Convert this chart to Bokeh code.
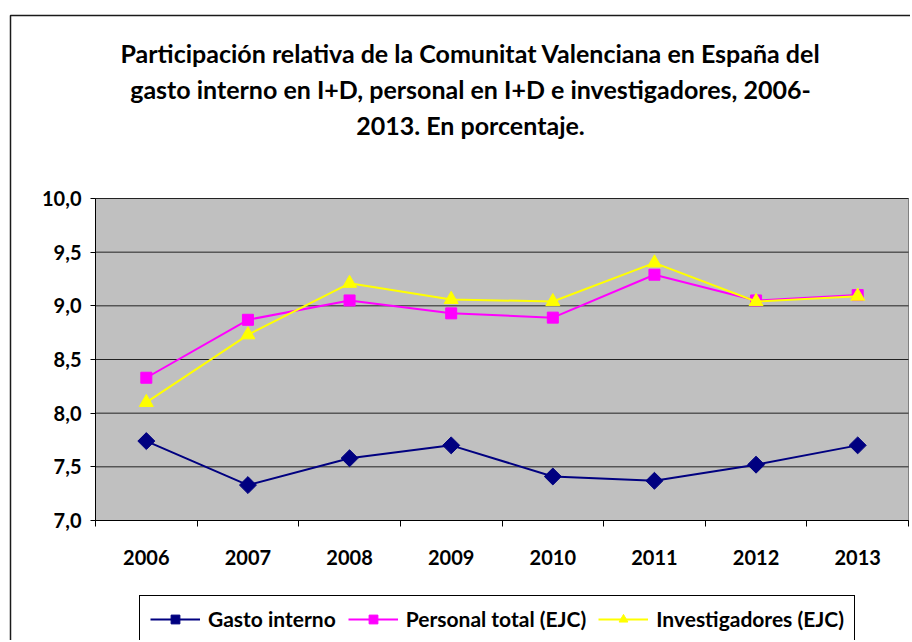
import math
from bokeh.plotting import figure
from bokeh.models import (Range1d, FixedTicker, Legend, LegendItem, Label, BoxAnnotation,
                          ColumnDataSource)
from bokeh.embed import file_html
from bokeh.resources import INLINE

years = ["2006", "2007", "2008", "2009", "2010", "2011", "2012", "2013"]
gasto_interno = [7.74, 7.33, 7.58, 7.70, 7.41, 7.37, 7.52, 7.70]
personal_total = [8.33, 8.87, 9.05, 8.93, 8.89, 9.29, 9.05, 9.10]
investigadores = [8.10, 8.73, 9.21, 9.06, 9.04, 9.40, 9.04, 9.09]
y_ticks = [7.0, 7.5, 8.0, 8.5, 9.0, 9.5, 10.0]
title_lines = [
    "Participación relativa de la Comunitat Valenciana en España del",
    "gasto interno en I+D, personal en I+D e investigadores, 2006-",
    "2013. En porcentaje.",
]

FONT = "Lato"
W, H = 910, 640
# plot-area placement on the canvas (pixels)
PL, PR, PT, PB = 95, 908, 198, 520
n = len(years)
xs = [i + 0.5 for i in range(n)]
ymin, ymax = y_ticks[0], y_ticks[-1]
xpx = (PR - PL) / n
ypx = (PB - PT) / (ymax - ymin)

p = figure(width=W, height=H, output_backend="svg", toolbar_location=None,
           x_range=Range1d(-PL / xpx, n + (W - PR) / xpx),
           y_range=Range1d(ymin - (H - PB) / ypx, ymax + PT / ypx),
           min_border_left=0, min_border_right=0, min_border_top=0, min_border_bottom=0)

p.background_fill_color = "white"
p.border_fill_color = "white"
p.outline_line_color = None
p.grid.visible = False

# plot area background
p.add_layout(BoxAnnotation(left=0, right=n, bottom=ymin, top=ymax, level="underlay",
                           fill_color="#C0C0C0", fill_alpha=1,
                           line_color="#808080", line_alpha=1, line_width=1))

# horizontal grid lines
gsrc = ColumnDataSource(dict(x0=[0] * len(y_ticks), x1=[n] * len(y_ticks), y=y_ticks))
p.segment(x0="x0", y0="y", x1="x1", y1="y", source=gsrc, line_color="#222222", line_width=1)

# axes placed at fixed locations
p.yaxis.fixed_location = 0
p.yaxis.bounds = (ymin, ymax)
p.yaxis.ticker = FixedTicker(ticks=y_ticks)
p.yaxis.major_label_overrides = {t: f"{t:.1f}".replace(".", ",") for t in y_ticks}
p.yaxis.axis_line_color = "black"
p.yaxis.major_tick_line_color = "black"
p.yaxis.major_tick_out = 5
p.yaxis.major_tick_in = 0
p.yaxis.minor_tick_line_color = None
p.yaxis.major_label_standoff = 9
p.yaxis.major_label_text_font = FONT
p.yaxis.major_label_text_font_style = "bold"
p.yaxis.major_label_text_font_size = "20px"
p.yaxis.major_label_text_color = "black"

p.xaxis.fixed_location = ymin
p.xaxis.bounds = (0, n)
p.xaxis.ticker = FixedTicker(ticks=xs, minor_ticks=list(range(n + 1)))
p.xaxis.major_label_overrides = {x: y for x, y in zip(xs, years)}
p.xaxis.axis_line_color = "black"
p.xaxis.major_tick_out = 0
p.xaxis.major_tick_in = 0
p.xaxis.minor_tick_out = 6
p.xaxis.minor_tick_in = 0
p.xaxis.minor_tick_line_color = "black"
p.xaxis.major_label_standoff = 23
p.xaxis.major_label_text_font = FONT
p.xaxis.major_label_text_font_style = "bold"
p.xaxis.major_label_text_font_size = "20px"
p.xaxis.major_label_text_color = "black"

# series
l1 = p.line(xs, gasto_interno, line_color="#000080", line_width=2)
m1 = p.scatter(xs, gasto_interno, marker="square", angle=math.pi / 4, size=12,
               fill_color="#000080", line_color="#000080")
l2 = p.line(xs, personal_total, line_color="#FF00FF", line_width=2)
m2 = p.scatter(xs, personal_total, marker="square", size=11, fill_color="#FF00FF", line_color="#FF00FF")
l3 = p.line(xs, investigadores, line_color="#FFFF00", line_width=2)
m3 = p.scatter(xs, investigadores, marker="triangle", size=14, fill_color="#FFFF00", line_color="#FFFF00")

legend = Legend(items=[
    LegendItem(label="Gasto interno", renderers=[l1, m1]),
    LegendItem(label="Personal total (EJC)", renderers=[l2, m2]),
    LegendItem(label="Investigadores (EJC)", renderers=[l3, m3]),
], location=(139, -2), orientation="horizontal")
legend.label_text_font = FONT
legend.label_text_font_style = "bold"
legend.label_text_font_size = "21px"
legend.label_text_color = "black"
legend.border_line_color = "black"
legend.border_line_alpha = 1
legend.border_line_width = 1
legend.background_fill_color = "white"
legend.background_fill_alpha = 1
legend.glyph_width = 50
legend.glyph_height = 22
legend.label_standoff = 8
legend.spacing = 12
legend.padding = 10
legend.margin = 0
p.add_layout(legend, "center")

# title lines
for i, line in enumerate(title_lines):
    p.add_layout(Label(x=470, y=H - 52 - 36 * i, x_units="screen", y_units="screen",
                       text=line, text_align="center", text_baseline="middle",
                       text_font=FONT, text_font_style="bold",
                       text_font_size="25px", text_color="black"))

# outer chart border
p.add_layout(BoxAnnotation(left=10, right=W + 50, top=H - 15, bottom=-50,
                           left_units="screen", right_units="screen",
                           top_units="screen", bottom_units="screen",
                           fill_alpha=0, line_color="#1a1a1a", line_alpha=1, line_width=1.5))

open("out.html", "w").write(file_html(p, INLINE))
